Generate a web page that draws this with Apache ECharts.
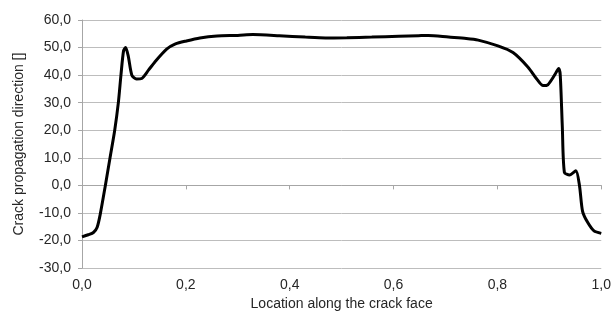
<!DOCTYPE html>
<html lang="en">
<head>
    <meta charset="UTF-8">
    <title>Crack propagation direction</title>
    <script src="https://cdn.jsdelivr.net/npm/echarts@6/dist/echarts.min.js"></script>
    <style>
        html, body { margin: 0; padding: 0; background: #fff; }
        #chart { width: 614px; height: 316px; }
    </style>
</head>
<body>
    <div id="chart"></div>
    <script>
        // location along the crack face (0..1)
        const crackPos = [
            0.000, 0.012, 0.022, 0.029, 0.035, 0.045, 0.054, 0.063, 0.070, 0.075,
            0.080, 0.084, 0.089, 0.096, 0.105, 0.115, 0.128, 0.140, 0.163, 0.180,
            0.201, 0.227, 0.260, 0.300, 0.329, 0.380, 0.430, 0.469, 0.510, 0.558,
            0.610, 0.648, 0.667, 0.706, 0.740, 0.763, 0.801, 0.830, 0.859, 0.875,
            0.888, 0.897, 0.910, 0.918, 0.921, 0.925, 0.929, 0.939, 0.951, 0.958,
            0.964, 0.974, 0.986, 1.000
        ];
        // crack propagation direction
        const direction = [
            -18.7, -17.9, -17.1, -15.3, -10.6, 0.0, 10.0, 20.0, 30.0, 40.0,
            48.8, 50.0, 47.0, 40.0, 38.6, 38.8, 41.8, 44.7, 49.4, 51.3,
            52.4, 53.5, 54.2, 54.4, 54.7, 54.3, 53.8, 53.5, 53.6, 53.8,
            54.1, 54.3, 54.4, 53.8, 53.3, 52.7, 50.6, 48.2, 42.9, 38.8,
            36.2, 36.5, 40.0, 42.4, 40.0, 21.2, 4.7, 3.8, 5.3, 0.0,
            -9.4, -13.5, -16.5, -17.4
        ];
        const yTicks = [-30, -20, -10, 0, 10, 20, 30, 40, 50, 60];
        const xTicks = [0, 0.2, 0.4, 0.6, 0.8, 1.0];

        const chart = echarts.init(document.getElementById('chart'));
        const textColor = '#262626';
        const fontFamily = '"Liberation Sans", Arial, sans-serif';

        chart.setOption({
            animation: false,
            grid: { left: 82, right: 10, top: 20, bottom: 41, containLabel: false },
            xAxis: {
                type: 'value',
                min: xTicks[0],
                max: xTicks[xTicks.length - 1],
                interval: 0.2,
                name: 'Location along the crack face',
                nameLocation: 'middle',
                nameGap: 28,
                nameTextStyle: { color: textColor, fontSize: 14, fontFamily: fontFamily },
                axisLine: { show: true, lineStyle: { color: '#a6a6a6', width: 1 } },
                axisTick: { show: true, length: 4, lineStyle: { color: '#a6a6a6' } },
                axisLabel: {
                    color: textColor, fontSize: 14, fontFamily: fontFamily, margin: 10,
                    formatter: v => v.toFixed(1).replace('.', ',')
                },
                splitLine: { show: false }
            },
            yAxis: {
                type: 'value',
                min: yTicks[0],
                max: yTicks[yTicks.length - 1],
                interval: 10,
                name: 'Crack propagation direction []',
                nameLocation: 'middle',
                nameGap: 56,
                nameTextStyle: { color: textColor, fontSize: 14, fontFamily: fontFamily },
                axisLine: { show: true, lineStyle: { color: '#a6a6a6', width: 1 } },
                axisTick: { show: true, length: 4, lineStyle: { color: '#a6a6a6' } },
                axisLabel: {
                    color: textColor, fontSize: 14, fontFamily: fontFamily, margin: 11,
                    formatter: v => v.toFixed(1).replace('.', ',')
                },
                splitLine: { show: true, lineStyle: { color: '#bdbdbd', width: 1 } }
            },
            series: [{
                type: 'line',
                data: crackPos.map((x, i) => [x, direction[i]]),
                smooth: 0.25,
                showSymbol: false,
                lineStyle: { color: '#000000', width: 3 }
            }]
        });
    </script>
</body>
</html>
